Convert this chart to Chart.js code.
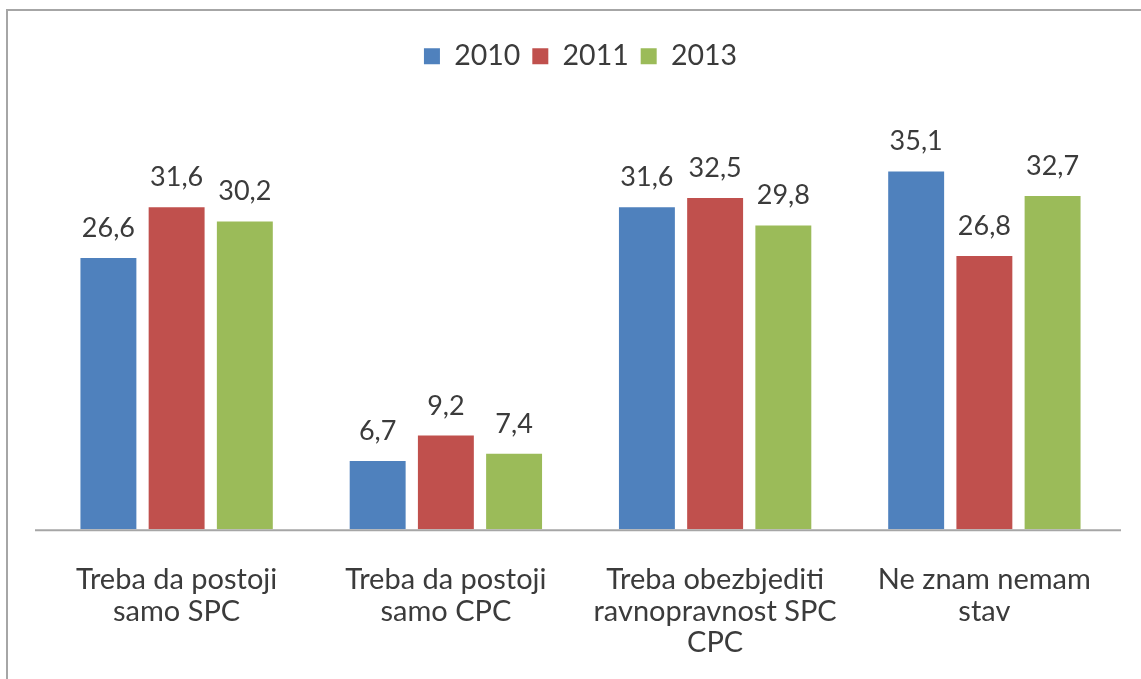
<!DOCTYPE html>
<html>
<head>
<meta charset="utf-8">
<script src="https://cdn.jsdelivr.net/npm/chart.js@4"></script>
<style>
  html, body { margin: 0; padding: 0; background: #fff; }
  #wrap { position: relative; width: 1141px; height: 679px; }
  #frame { position: absolute; left: 6px; top: 9px; right: -2px; bottom: -2px; border-left: 2px solid #a6a6a6; border-top: 2px solid #a6a6a6; }
  canvas { position: absolute; left: 0; top: 0; }
</style>
</head>
<body>
<div id="wrap">
  <div id="frame"></div>
  <canvas id="chart" width="1141" height="679"></canvas>
</div>
<script>
const categories = [
    ['Treba da postoji', 'samo SPC'],
    ['Treba da postoji', 'samo CPC'],
    ['Treba obezbjediti', 'ravnopravnost SPC', 'CPC'],
    ['Ne znam nemam', 'stav']
];
const seriesNames = ['2010', '2011', '2013'];
const values2010 = [26.6, 6.7, 31.6, 35.1];
const values2011 = [31.6, 9.2, 32.5, 26.8];
const values2013 = [30.2, 7.4, 29.8, 32.7];
const colors = ['#4f81bd', '#c0504d', '#9bbb59'];

const FONT = 'Lato, "Open Sans", sans-serif';
const TEXT = '#3b3b3b';

// etiquetas de valor acima das barras (vírgula decimal)
const valueLabels = {
    id: 'valueLabels',
    afterDatasetsDraw(chart) {
        const ctx = chart.ctx;
        ctx.save();
        ctx.font = '27px ' + FONT;
        ctx.fillStyle = TEXT;
        ctx.textAlign = 'center';
        ctx.textBaseline = 'alphabetic';
        chart.data.datasets.forEach((ds, i) => {
            chart.getDatasetMeta(i).data.forEach((bar, j) => {
                ctx.fillText(ds.data[j].toFixed(1).replace('.', ','), bar.x, bar.y - 21);
            });
        });
        ctx.restore();
    }
};

// linha do eixo um pouco mais larga que a área do gráfico
const axisLine = {
    id: 'axisLine',
    beforeDatasetsDraw(chart) {
        const { ctx, chartArea } = chart;
        ctx.save();
        ctx.strokeStyle = '#a6a6a6';
        ctx.lineWidth = 2;
        ctx.beginPath();
        ctx.moveTo(chartArea.left - 7, chartArea.bottom + 1);
        ctx.lineTo(chartArea.right + 2, chartArea.bottom + 1);
        ctx.stroke();
        ctx.restore();
    }
};

const legendSpacing = {
    id: 'legendSpacing',
    beforeInit(chart) {
        const fit = chart.legend.fit;
        chart.legend.fit = function() {
            fit.bind(chart.legend)();
            this.height += 41;
        };
    }
};

new Chart(document.getElementById('chart'), {
    type: 'bar',
    data: {
        labels: categories,
        datasets: [
            { label: seriesNames[0], data: values2010, backgroundColor: colors[0] },
            { label: seriesNames[1], data: values2011, backgroundColor: colors[1] },
            { label: seriesNames[2], data: values2013, backgroundColor: colors[2] }
        ]
    },
    options: {
        responsive: false,
        animation: false,
        categoryPercentage: 0.76,
        barPercentage: 0.82,
        layout: { padding: { left: 42, right: 22, top: 30, bottom: -14 } },
        plugins: {
            legend: {
                position: 'top',
                labels: {
                    boxWidth: 16,
                    boxHeight: 16,
                    padding: 12,
                    color: TEXT,
                    font: { family: FONT, size: 28.5 }
                }
            },
            tooltip: { enabled: false }
        },
        scales: {
            x: {
                grid: { display: false, drawTicks: false },
                border: { display: false },
                ticks: { color: TEXT, padding: 34, font: { family: FONT, size: 29, lineHeight: 1.1 } }
            },
            y: { display: false, min: 0, max: 40 }
        }
    },
    plugins: [valueLabels, axisLine, legendSpacing]
});
</script>
</body>
</html>
